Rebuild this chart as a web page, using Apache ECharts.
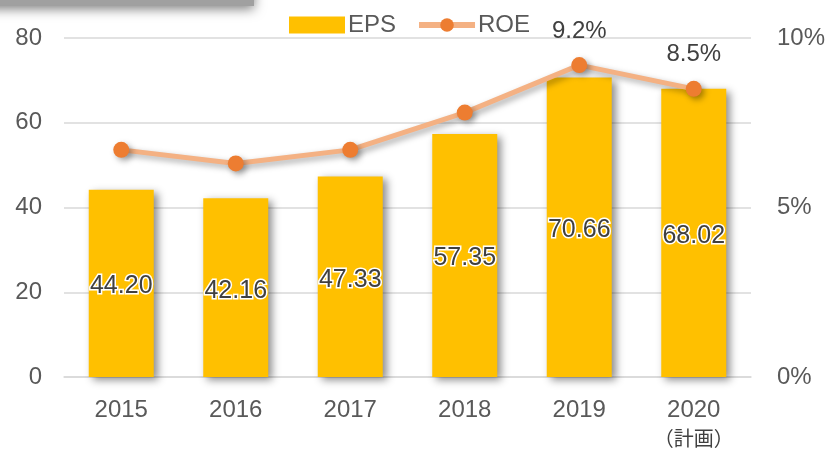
<!DOCTYPE html>
<html>
<head>
<meta charset="utf-8">
<script src="https://cdn.jsdelivr.net/npm/echarts@6/dist/echarts.min.js"></script>
<style>
  html, body { margin: 0; padding: 0; background: #fff; }
  #chart { width: 829px; height: 451px; }
</style>
</head>
<body>
<div id="chart"></div>
<script>
const years = ['2015', '2016', '2017', '2018', '2019', '2020']
const eps = [44.20, 42.16, 47.33, 57.35, 70.66, 68.02]
const roe = [6.7, 6.3, 6.7, 7.8, 9.2, 8.5]
const roeLabelled = ['2019', '2020']

const chart = echarts.init(document.getElementById('chart'))
const font = 'Arial, "Liberation Sans", sans-serif'

chart.setOption({
  animation: false,
  textStyle: { fontFamily: font },
  grid: { left: 64, right: 78, top: 38, bottom: 72 },
  legend: {
    top: 8,
    left: 284,
    itemGap: 20,
    itemWidth: 56,
    itemHeight: 17,
    textStyle: { fontSize: 24, color: '#595959', fontFamily: font, padding: [0, 0, 0, -2] },
    data: [
      { name: 'EPS', icon: 'rect', itemStyle: { shadowBlur: 0, shadowOffsetX: 0, shadowOffsetY: 0 } },
      { name: 'ROE', lineStyle: { width: 6, shadowBlur: 0, shadowOffsetX: 0, shadowOffsetY: 0 }, itemStyle: { shadowBlur: 0, shadowOffsetX: 0, shadowOffsetY: 0 } }
    ]
  },
  graphic: [{
    type: 'rect',
    left: -20,
    top: -14,
    shape: { width: 274, height: 20 },
    style: {
      fill: '#a0a0a0',
      shadowColor: 'rgba(0,0,0,0.5)',
      shadowBlur: 12,
      shadowOffsetY: 3
    }
  }],
  xAxis: {
    type: 'category',
    data: years,
    axisTick: { show: false },
    axisLine: { lineStyle: { color: '#d9d9d9', width: 1.5 } },
    axisLabel: {
      interval: 0,
      margin: 18,
      fontSize: 24,
      color: '#595959',
      lineHeight: 30,
      formatter: v => v === '2020' ? '2020\n{p|（計画）}' : v,
      rich: {
        p: { fontSize: 20, color: '#404040', fontFamily: '"Noto Sans CJK JP", sans-serif', lineHeight: 26 }
      }
    }
  },
  yAxis: [{
    type: 'value',
    min: 0,
    max: 80,
    interval: 20,
    axisLabel: { fontSize: 24, color: '#595959', margin: 22 },
    splitLine: { lineStyle: { color: '#d9d9d9', width: 1.5 } }
  }, {
    type: 'value',
    min: 0,
    max: 10,
    interval: 5,
    axisLabel: { fontSize: 24, color: '#595959', margin: 26, formatter: '{value}%' },
    splitLine: { show: false }
  }],
  series: [{
    name: 'EPS',
    type: 'bar',
    data: eps,
    barWidth: 65,
    itemStyle: {
      color: '#FFC000',
      shadowColor: 'rgba(0,0,0,0.45)',
      shadowBlur: 8,
      shadowOffsetX: 4,
      shadowOffsetY: 3
    },
    label: {
      show: true,
      position: 'inside',
      offset: [0, 3],
      fontSize: 25,
      color: '#404040',
      textBorderColor: '#fff',
      textBorderWidth: 3,
      formatter: p => p.value.toFixed(2)
    }
  }, {
    name: 'ROE',
    type: 'line',
    yAxisIndex: 1,
    data: roe,
    symbol: 'circle',
    symbolSize: 16,
    lineStyle: {
      color: '#F4B183',
      width: 5,
      shadowColor: 'rgba(0,0,0,0.35)',
      shadowBlur: 6,
      shadowOffsetX: 3,
      shadowOffsetY: 3
    },
    itemStyle: {
      color: '#ED7D31',
      shadowColor: 'rgba(0,0,0,0.35)',
      shadowBlur: 6,
      shadowOffsetX: 3,
      shadowOffsetY: 3
    },
    label: {
      show: true,
      position: 'top',
      distance: 14,
      fontSize: 24,
      color: '#404040',
      formatter: p => roeLabelled.includes(p.name) ? p.value.toFixed(1) + '%' : ''
    }
  }]
})
</script>
</body>
</html>
